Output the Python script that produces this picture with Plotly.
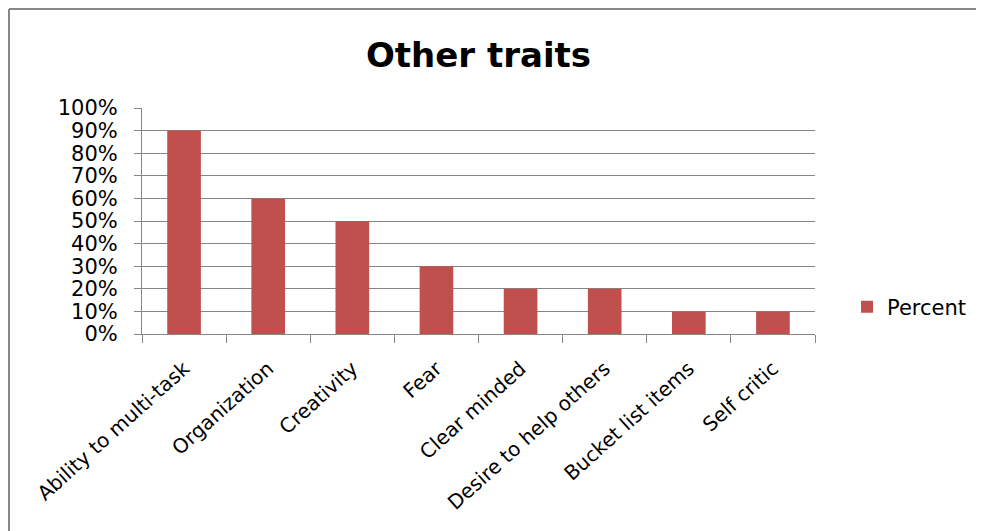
import plotly.graph_objects as go

categories = ["Ability to multi-task", "Organization", "Creativity", "Fear",
              "Clear minded", "Desire to help others", "Bucket list items", "Self critic"]
percent = [0.90, 0.60, 0.50, 0.30, 0.20, 0.20, 0.10, 0.10]
series_name = "Percent"
title_text = "Other traits"

# The page body has an 8px margin; layout is specified in screen px and shifted.
OFF = 8
SW, SH = 984, 531
W, H = SW - OFF, SH - OFF
L, R, T, B = 142, 815, 108, 334  # plot area in screen px

fig = go.Figure()
fig.add_trace(go.Bar(x=categories, y=percent, name=series_name,
                     marker=dict(color="#C0504D", line=dict(width=0)),
                     showlegend=True))

def px_x(x):
    return (x - L) / (R - L)

def px_y(y):
    return (B - y) / (B - T)

grid = "#868686"
fig.update_layout(
    width=W, height=H,
    margin=dict(l=L - OFF, r=W - (R - OFF), t=T - OFF, b=H - (B - OFF), pad=0),
    paper_bgcolor="white", plot_bgcolor="white",
    font=dict(family="DejaVu Sans", color="#000000"),
    title=dict(text="<b>" + title_text + "</b>", x=0.5, xanchor="center",
               y=1 - (55 - OFF) / H, yanchor="middle", xref="paper",
               font=dict(size=34, family="DejaVu Sans", color="#000000")),
    bargap=0.6,
    showlegend=True,
    legend=dict(x=px_x(847), y=px_y(307), xanchor="left", yanchor="middle",
                font=dict(size=21, family="DejaVu Sans", color="#000000"),
                bgcolor="rgba(0,0,0,0)"),
    xaxis=dict(showline=True, linecolor=grid, linewidth=1, ticks="outside",
               tickson="boundaries", ticklen=8, tickcolor=grid, showgrid=False,
               tickangle=-42, ticklabelstandoff=14,
               tickfont=dict(size=20, family="DejaVu Sans")),
    yaxis=dict(range=[0, 1], dtick=0.1, tickformat=".0%", showline=True,
               linecolor=grid, linewidth=1, ticks="outside", ticklen=7,
               tickcolor=grid, showgrid=True, gridcolor=grid, gridwidth=1,
               zeroline=False, ticklabelstandoff=12,
               tickfont=dict(size=21, family="DejaVu Sans")),
    shapes=[
        dict(type="line", xref="paper", yref="paper", x0=px_x(9), x1=px_x(1000),
             y0=px_y(9), y1=px_y(9), line=dict(color="#878787", width=2)),
        dict(type="line", xref="paper", yref="paper", x0=px_x(9), x1=px_x(9),
             y0=px_y(9), y1=px_y(560), line=dict(color="#878787", width=2)),
    ],
)

fig.write_html("out.html")
